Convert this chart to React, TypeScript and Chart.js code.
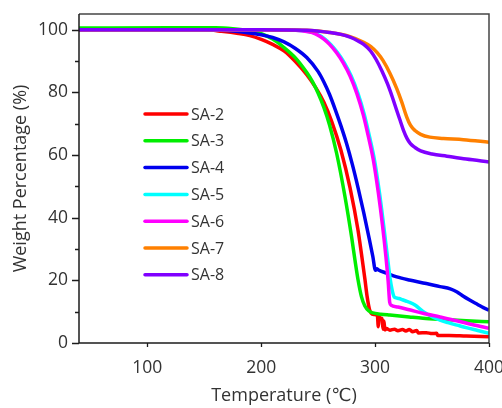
import { useEffect, useRef } from "react";
import { Chart, registerables } from "chart.js";

Chart.register(...registerables);

const seriesNames = ["SA-2", "SA-3", "SA-4", "SA-5", "SA-6", "SA-7", "SA-8"];
const seriesColors = ["#ff0000", "#00ee00", "#0000ee", "#00ffff", "#ff00ff", "#ff8000", "#8000ff"];

const xTicks = [100, 200, 300, 400];
const yTicks = [0, 20, 40, 60, 80, 100];
const yMinorTicks = [10, 30, 50, 70, 90];

const sa2: number[][] = [
  [40, 100], [100, 100], [150, 99.95], [165, 99.5], [180, 98.8], [190, 98.1], [200, 96.9], [210, 95.3],
  [220, 93.2], [230, 89.8], [240, 85.6], [248, 81.4], [255, 76.8], [262, 70.6], [270, 61.5], [278, 49.5],
  [285, 36], [288, 28.5], [291, 20.5], [293, 14.8], [295, 10.8], [296.5, 9.5], [299, 9.1], [302, 8.8],
  [302.8, 5.2], [303.5, 8.4], [304.5, 8.0], [306, 7.8], [307, 4.4], [307.8, 7.0], [308.5, 4.2], [310, 4.6],
  [313, 4.1], [317, 4.4], [320, 3.9], [324, 4.3], [327, 3.8], [330, 4.3], [333, 3.6], [336.5, 4.0],
  [338, 3.2], [345, 3.3], [350, 3.0], [354, 3.1], [355, 2.4], [365, 2.4], [380, 2.2], [400, 2.0],
];

const sa3: number[][] = [
  [40, 100.5], [120, 100.6], [160, 100.6], [175, 100.3], [190, 99.6], [200, 98.7], [210, 97], [220, 94.3],
  [230, 91], [240, 86.3], [245, 83.4], [250, 79.7], [255, 75.2], [260, 69.6], [266.3, 60.4], [273.6, 46.6],
  [279.5, 33.5], [282.3, 26.5], [285, 20.2], [288, 14.8], [291, 11.8], [294.6, 10.2], [298, 9.6],
  [305, 9.2], [313, 8.9], [330, 8.3], [342, 7.9], [360, 7.5], [380, 7.1], [400, 6.8],
];

const sa4: number[][] = [
  [40, 100], [150, 100], [170, 99.7], [185, 99.2], [200, 98.4], [210, 97.5], [220, 96.1], [230, 94],
  [240, 91.1], [250, 86.6], [255, 83.3], [260, 79.3], [265, 74.5], [270, 69.3], [275, 63.6], [280, 57],
  [285, 49.6], [290, 41.6], [295, 33], [298, 27.6], [300.3, 23.2], [301.5, 23.7], [303, 23.3], [310, 22.3],
  [319, 21.1], [330, 20.1], [345, 19], [357, 18], [366, 17.3], [372, 16.3], [377.5, 14.9], [383, 13.7],
  [390, 12.3], [395, 11.3], [400, 10.5],
];

const sa5: number[][] = [
  [40, 100], [200, 100], [231, 99.8], [241, 99.4], [249, 98.6], [256, 97], [261, 95.3], [267, 92.7],
  [273, 89.4], [279, 85.2], [285, 79.6], [290.6, 72.8], [295, 66], [299.4, 58.5], [303.8, 48], [307.5, 37.5],
  [310.5, 28.5], [313, 21], [315, 16.8], [316.8, 14.7], [318.5, 14.4], [321, 14.2], [324, 13.8],
  [327, 13.4], [330, 13.0], [335, 12.1], [342, 10.1], [350, 8.4], [357, 7.3], [364, 6.5], [372, 5.7],
  [380, 4.9], [390, 4.0], [400, 3.1],
];

const sa6: number[][] = [
  [40, 100], [200, 100], [230, 99.8], [240, 99.4], [248, 98.6], [255, 97], [260, 95.3], [266, 92.7],
  [272, 89.4], [278, 85.2], [284, 79.6], [289.6, 72.8], [294, 66], [298.4, 58.5], [302.8, 48], [306.5, 37.5],
  [309.5, 27.5], [311.5, 19.5], [312.8, 13], [314, 12.1], [320, 11.5], [330, 10.6], [342, 9.5], [357, 8.3],
  [371.6, 7.1], [385, 5.9], [400, 4.7],
];

const sa7: number[][] = [
  [40, 100], [200, 100], [240, 99.8], [260, 99.1], [278, 97.8], [290, 96], [296, 94.7], [302, 92.6],
  [307, 90.1], [313, 86.1], [319, 81.2], [323.5, 76.8], [327.7, 72.2], [331, 69.5], [335, 67.8],
  [340, 66.6], [348, 65.7], [360, 65.3], [377.5, 64.9], [400, 64.1],
];

const sa8: number[][] = [
  [40, 100], [200, 100], [240, 99.8], [260, 99.1], [270, 98.5], [278, 97.6], [285, 96.4], [290, 95.3],
  [296, 93.2], [301, 90.4], [306, 86.8], [311, 82.6], [315, 78.6], [319, 74.2], [322, 71], [325, 67.8],
  [328, 65.3], [331, 63.6], [335, 62.4], [340, 61.3], [350, 60.3], [363, 59.6], [380, 58.7], [400, 57.8],
];

const seriesData = [sa2, sa3, sa4, sa5, sa6, sa7, sa8];

const FONT = "'Open Sans', 'DejaVu Sans', sans-serif";
const TEXT = "#333333";

export default function App() {
  const ref = useRef<HTMLCanvasElement>(null);

  useEffect(() => {
    document.body.style.margin = "0";
    const canvas = ref.current;
    if (!canvas) return;

    const decor = {
      id: "decor",
      afterDraw(chart: any) {
        const { ctx, chartArea, scales } = chart;
        const { left, right, top, bottom } = chartArea;
        const x = scales.x;
        const y = scales.y;
        ctx.save();
        ctx.lineCap = "butt";
        ctx.strokeStyle = "#454545";
        ctx.lineWidth = 1.5;
        ctx.beginPath();
        ctx.moveTo(left, top);
        ctx.lineTo(right, top);
        ctx.lineTo(right, bottom);
        ctx.stroke();
        ctx.strokeStyle = "#1c1c1c";
        ctx.beginPath();
        ctx.moveTo(left, top);
        ctx.lineTo(left, bottom);
        ctx.lineTo(right, bottom);
        ctx.stroke();
        ctx.lineWidth = 1.3;
        ctx.beginPath();
        y.ticks.forEach((t: any) => {
          const py = Math.round(y.getPixelForValue(t.value)) + 0.5;
          ctx.moveTo(left - 7, py);
          ctx.lineTo(left, py);
        });
        yMinorTicks.forEach((v) => {
          const py = Math.round(y.getPixelForValue(v)) + 0.5;
          ctx.moveTo(left - 4, py);
          ctx.lineTo(left, py);
        });
        x.ticks.forEach((t: any) => {
          const px = Math.round(x.getPixelForValue(t.value)) + 0.5;
          ctx.moveTo(px, bottom);
          ctx.lineTo(px, bottom + 4);
        });
        ctx.stroke();

        const lx0 = 145;
        const lx1 = 187;
        const ly0 = 114;
        const step = 26.8;
        ctx.font = `16px ${FONT}`;
        ctx.textBaseline = "middle";
        ctx.textAlign = "left";
        chart.data.datasets.forEach((ds: any, i: number) => {
          const ly = ly0 + i * step;
          ctx.strokeStyle = ds.borderColor;
          ctx.lineWidth = 3.5;
          ctx.lineCap = "round";
          ctx.beginPath();
          ctx.moveTo(lx0, ly);
          ctx.lineTo(lx1, ly);
          ctx.stroke();
          ctx.fillStyle = TEXT;
          ctx.fillText(ds.label, lx1 + 4, ly + 1);
        });
        ctx.restore();
      },
    };

    const chart = new Chart(canvas, {
      type: "line",
      data: {
        datasets: seriesNames.map((name, i) => ({
          label: name,
          data: seriesData[i].map(([t, w]) => ({ x: t, y: w })),
          borderColor: seriesColors[i],
          backgroundColor: seriesColors[i],
          borderWidth: 3.5,
          pointRadius: 0,
          cubicInterpolationMode: "monotone" as const,
          fill: false,
          order: -i,
        })),
      },
      options: {
        animation: false,
        responsive: false,
        maintainAspectRatio: false,
        layout: { padding: { top: 14, right: 13, left: 0, bottom: 0 } },
        plugins: { legend: { display: false }, tooltip: { enabled: false } },
        scales: {
          x: {
            type: "linear",
            min: 40,
            max: 400,
            afterBuildTicks: (s: any) => {
              s.ticks = xTicks.map((v) => ({ value: v }));
            },
            afterFit: (s: any) => {
              s.height = 65;
              s.paddingLeft = 0;
              s.paddingRight = 0;
            },
            ticks: {
              font: { family: FONT, size: 17.5 },
              color: TEXT,
              padding: 15,
              maxRotation: 0,
              autoSkip: false,
            },
            grid: { display: false, drawTicks: false },
            border: { display: false },
            title: {
              display: true,
              text: "Temperature (℃)",
              font: { family: FONT, size: 18 },
              color: TEXT,
              padding: { top: 0, bottom: 1 },
            },
          },
          y: {
            type: "linear",
            min: 0,
            max: 105,
            afterBuildTicks: (s: any) => {
              s.ticks = yTicks.map((v) => ({ value: v }));
            },
            afterFit: (s: any) => {
              s.width = 79;
              s.paddingTop = 0;
              s.paddingBottom = 0;
            },
            ticks: {
              font: { family: FONT, size: 17.5 },
              color: TEXT,
              padding: 11,
              autoSkip: false,
            },
            grid: { display: false, drawTicks: false },
            border: { display: false },
            title: {
              display: true,
              text: "Weight Percentage (%)",
              font: { family: FONT, size: 18 },
              color: TEXT,
              padding: { top: 10, bottom: 0 },
            },
          },
        },
      },
      plugins: [decor],
    });

    return () => chart.destroy();
  }, []);

  return (
    <div style={{ position: "fixed", left: 0, top: 0, width: 502, height: 408 }}>
      <canvas ref={ref} width={502} height={408} />
    </div>
  );
}
